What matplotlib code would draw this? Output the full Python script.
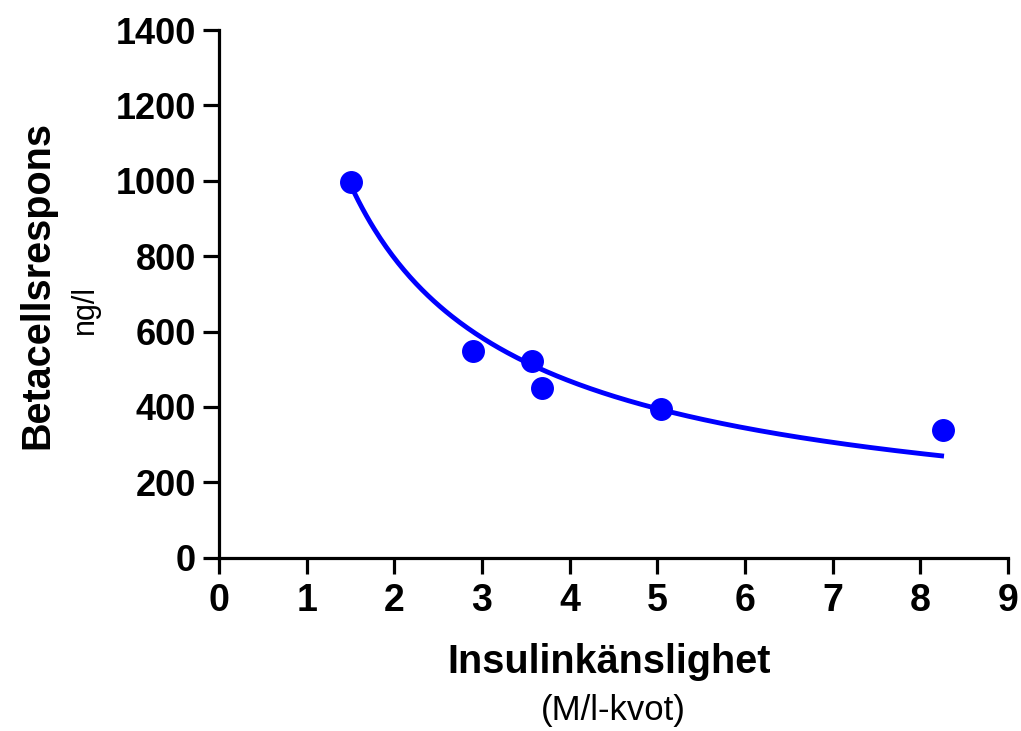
import numpy as np
import matplotlib
matplotlib.use("Agg")
import matplotlib.pyplot as plt

# Data
insulin_sensitivity = [1.50, 2.90, 3.57, 3.68, 5.04, 8.26]
beta_cell_response = [998, 548, 522, 451, 395, 340]

# Fitted curve (power-law model) parameters
fit_scale = 1348.0
fit_exponent = -0.762
fit_x_start = 1.50
fit_x_end = 8.27

x_ticks = [0, 1, 2, 3, 4, 5, 6, 7, 8, 9]
y_ticks = [0, 200, 400, 600, 800, 1000, 1200, 1400]

xlabel_main = "Insulinkänslighet"
xlabel_sub = "(M/l-kvot)"
ylabel_main = "Betacellsrespons"
ylabel_sub = "ng/l"

plt.rcParams['font.family'] = ['Liberation Sans', 'DejaVu Sans']

W, H = 1021, 731
fig = plt.figure(figsize=(W / 100, H / 100), dpi=100)
ax = fig.add_axes([219 / W, 1 - 557.7 / H, (1008 - 219) / W, (557.7 - 30) / H])

xs = np.linspace(fit_x_start, fit_x_end, 300)
ax.plot(xs, fit_scale * xs ** fit_exponent, color='#0000FF', lw=3.5, zorder=3,
        solid_capstyle='butt', clip_on=False)
ax.plot(insulin_sensitivity, beta_cell_response, 'o', color='#0000FF', ms=15.5,
        mec='#0000FF', zorder=4, clip_on=False)

ax.set_xlim(0, 9)
ax.set_ylim(0, 1400)
ax.set_xticks(x_ticks)
ax.set_yticks(y_ticks)
ax.set_xticklabels([str(v) for v in x_ticks])
ax.set_yticklabels([str(v) for v in y_ticks])

for s in ['top', 'right']:
    ax.spines[s].set_visible(False)
for s in ['left', 'bottom']:
    ax.spines[s].set_linewidth(2.3)
    ax.spines[s].set_color('black')

ax.tick_params(axis='both', direction='out', length=11.5, width=2.3, color='black')
ax.tick_params(axis='y', pad=5, labelsize=26)
ax.tick_params(axis='x', pad=7, labelsize=27)
for lab in ax.get_xticklabels() + ax.get_yticklabels():
    lab.set_fontweight('bold')

fig.text(609 / W, 1 - 673 / H, xlabel_main, ha='center', va='baseline',
         fontsize=28.5, fontweight='bold')
fig.text(613 / W, 1 - 720 / H, xlabel_sub, ha='center', va='baseline',
         fontsize=25)
fig.text(48 / W, 1 - 285 / H, ylabel_main, ha='center', va='baseline',
         rotation=90, rotation_mode='anchor', fontsize=28.5, fontweight='bold')
fig.text(93 / W, 1 - 309 / H, ylabel_sub, ha='center', va='baseline',
         rotation=90, rotation_mode='anchor', fontsize=22)

fig.savefig("out.png", dpi=100, facecolor='white')
